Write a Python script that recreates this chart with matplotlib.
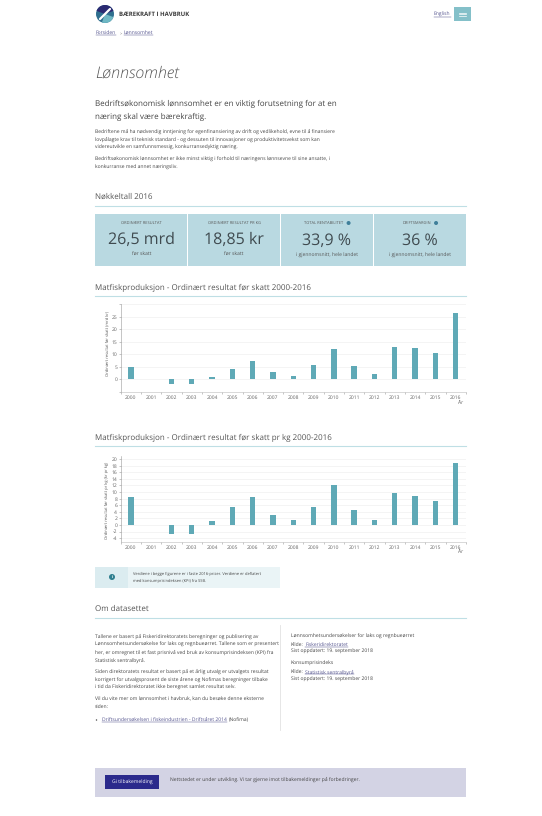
import matplotlib
matplotlib.use("Agg")
import matplotlib.pyplot as plt
from matplotlib.patches import Rectangle, Circle, Wedge

plt.rcParams['font.family'] = ['Open Sans', 'DejaVu Sans']
plt.rcParams['text.hinting'] = 'no_hinting'
plt.rcParams['text.hinting_factor'] = 1

W, H = 542, 816

# Data
years = ['2000', '2001', '2002', '2003', '2004', '2005', '2006', '2007', '2008',
         '2009', '2010', '2011', '2012', '2013', '2014', '2015', '2016']
resultat = [5.0, 0.1, -1.8, -1.8, 0.8, 4.0, 7.2, 2.8, 1.3, 5.8, 12.0, 5.4, 2.0, 13.0, 12.4, 10.6, 26.5]
resultat_kg = [8.4, 0.1, -2.7, -2.7, 1.1, 5.5, 8.4, 3.0, 1.5, 5.5, 12.1, 4.5, 1.5, 9.7, 8.9, 7.3, 18.85]

card_labels = ['ORDINÆRT RESULTAT', 'ORDINÆRT RESULTAT PR KG', 'TOTAL RENTABILITET', 'DRIFTSMARGIN']
card_values = ['26,5 mrd', '18,85 kr', '33,9 %', '36 %']
card_subs = ['før skatt', 'før skatt', 'i gjennomsnitt, hele landet', 'i gjennomsnitt, hele landet']

body1 = ['Bedriftene må ha nødvendig inntjening for egenfinansiering av drift og vedlikehold, evne til å finansiere',
         'lovpålagte krav til teknisk standard - og dessuten til innovasjoner og produktivitetsvekst som kan',
         'videreutvikle en samfunnsmessig, konkurransedyktig næring.']
body2 = ['Bedriftsøkonomisk lønnsomhet er ikke minst viktig i forhold til næringens lønnsevne til sine ansatte, i',
         'konkurranse med annet næringsliv.']
om1 = ['Tallene er basert på Fiskeridirektoratets beregninger og publisering av',
       'Lønnsomhetsundersøkelse for laks og regnbueørret. Tallene som er presentert',
       'her, er omregnet til et fast prisnivå ved bruk av konsumprisindeksen (KPI) fra',
       'Statistisk sentralbyrå.']
om2 = ['Siden direktoratets resultat er basert på et årlig utvalg er utvalgets resultat',
       'korrigert for utvalgsprosent de siste årene og Nofimas beregninger tilbake',
       'i tid da Fiskeridirektoratet ikke beregnet samlet resultat selv.']
om3 = ['Vil du vite mer om lønnsomhet i havbruk, kan du besøke denne eksterne', 'siden:']

TEAL = '#5fa9b6'
LINE = '#bfdfe5'
DARK = '#444444'
LINK = '#55558f'

fig = plt.figure(figsize=(W / 100, H / 100), dpi=100, facecolor='white')
page = fig.add_axes([0, 0, 1, 1])
page.set_xlim(0, W)
page.set_ylim(H, 0)
page.axis('off')


def txt(x, y, s, size=3.6, color=DARK, **kw):
    kw.setdefault('va', 'center')
    return page.text(x, y, s, fontsize=size, color=color, **kw)


def box(x0, y0, x1, y1, color):
    page.add_patch(Rectangle((x0, y0), x1 - x0, y1 - y0, facecolor=color, edgecolor='none'))


def link(x, y, s, size=3.6):
    t = txt(x, y, s, size=size, color=LINK)
    bb = t.get_window_extent(fig.canvas.get_renderer())
    page.plot([bb.x0, bb.x1], [y + 2.4, y + 2.4], color=LINK, lw=0.35)
    return bb.x1


def section(y_text, y_line, s):
    txt(95, y_text, s, size=5.65, color='#555555')
    page.plot([95, 466], [y_line, y_line], color=LINE, lw=0.8)


def bar_chart(top, bottom, values, ymin, ymax, major, labelled, ylabel, ylab_y):
    ax = fig.add_axes([120.7 / W, 1 - bottom / H, (465.8 - 120.7) / W, (bottom - top) / H])
    ax.set_facecolor('none')
    ax.bar(range(len(years)), values, width=0.27, color=TEAL, zorder=3)
    ax.set_xlim(-0.5, 16.5)
    ax.set_ylim(ymin, ymax)
    ax.set_yticks(major)
    ax.set_yticklabels([str(v) if v in labelled else '' for v in major])
    ax.set_xticks(range(len(years)))
    ax.set_xticklabels(years)
    ax.set_xticks([i - 0.5 for i in range(len(years) + 1)], minor=True)
    ax.tick_params(axis='x', which='major', length=0, labelsize=3.3, labelcolor='#666666', pad=2.5)
    ax.tick_params(axis='x', which='minor', length=1.5, width=0.4, color='#999999')
    ax.tick_params(axis='y', length=1.5, width=0.4, color='#999999', labelsize=3.3, labelcolor='#666666', pad=1)
    ax.grid(axis='y', color='#f0f0f0', lw=0.5, zorder=0)
    for side in ['top', 'right']:
        ax.spines[side].set_visible(False)
    ax.spines['left'].set_linewidth(0.4)
    ax.spines['left'].set_color('#999999')
    ax.spines['bottom'].set_linewidth(0.4)
    ax.spines['bottom'].set_color('#bbbbbb')
    txt(107, ylab_y, ylabel, size=3.05, color='#555555', rotation=90, ha='center')
    txt(461, bottom + 10.5, 'År', size=3.3, color='#666666', ha='center')


# Header
page.add_patch(Circle((105, 14), 9, facecolor='#2f6f8f', edgecolor='none'))
page.add_patch(Wedge((105, 14), 9, 200, 340, facecolor='#2b2a72', edgecolor='none'))
page.add_patch(Wedge((105, 14), 9, 20, 110, facecolor='#6fb8c4', edgecolor='none'))
page.plot([100, 110], [19, 9], color='white', lw=1.6, solid_capstyle='round')
txt(119, 14, 'BÆREKRAFT I HAVBRUK', size=4.0, color='#3a3a3a', fontweight='bold')
link(434, 14.5, 'English', size=3.6)
box(454, 7, 471, 21, '#84c0c9')
for yy in [12.5, 14, 15.5]:
    page.plot([459, 466], [yy, yy], color='white', lw=0.5)
link(96, 33, 'Forsiden', size=3.6)
txt(120, 33, '>', size=2.8, color='#777777')
link(124, 33, 'Lønnsomhet', size=3.6)

# Intro
txt(95, 73, 'Lønnsomhet', size=11.6, color='#555555', fontstyle='italic', fontweight='light')
txt(95, 104, 'Bedriftsøkonomisk lønnsomhet er en viktig forutsetning for at en', size=5.7, color='#444444')
txt(95, 117, 'næring skal være bærekraftig.', size=5.7, color='#444444')
for y, s in zip([131.5, 139, 147], body1):
    txt(95, y, s, size=3.65)
for y, s in zip([159.5, 167], body2):
    txt(95, y, s, size=3.65)

# Key figures
section(197, 205.7, 'Nøkkeltall 2016')
card_edges = [95, 187.5, 280.5, 373.5, 466]
label_y = [223, 223, 223, 223]
value_y = [239.5, 239.5, 241, 241]
sub_y = [254, 254, 256, 256]
for i in range(4):
    box(card_edges[i] + 0.4, 214, card_edges[i + 1] - 0.4, 266, '#b9d9e1')
    cx = (card_edges[i] + card_edges[i + 1]) / 2
    shift = -3 if i >= 2 else 0
    t = txt(cx + shift, label_y[i], card_labels[i], size=2.95, color='#555555', ha='center')
    if i >= 2:
        bb = t.get_window_extent(fig.canvas.get_renderer())
        page.add_patch(Circle((bb.x1 + 5, label_y[i]), 2, facecolor='#3f7f9a', edgecolor='none'))
    txt(cx, value_y[i], card_values[i], size=11.2, color='#3f4a4f', ha='center')
    txt(cx, sub_y[i], card_subs[i], size=3.5, color='#555555', ha='center')

# Charts
section(288, 296, 'Matfiskproduksjon - Ordinært resultat før skatt 2000-2016')
bar_chart(304.1, 391.8, resultat, -5, 30, list(range(-5, 31, 5)), [0, 5, 10, 15, 20, 25],
          'Ordinært resultat før skatt (mrd kr)', 343)
section(438, 446, 'Matfiskproduksjon - Ordinært resultat før skatt pr kg 2000-2016')
bar_chart(455.7, 541.5, resultat_kg, -5, 21, list(range(-4, 21, 2)), list(range(-4, 21, 2)),
          'Ordinært resultat før skatt pr kg (kr pr kg)', 500)

# Info box
box(95, 567, 280, 588, '#eaf4f6')
box(95, 567, 128, 588, '#dbecf0')
page.add_patch(Circle((112, 577), 3, facecolor='#2f7f8f', edgecolor='none'))
txt(112, 577, 'i', size=3.2, color='white', ha='center', fontweight='bold')
txt(133, 574, 'Verdiene i begge figurene er i faste 2016-priser. Verdiene er deflatert', size=3.2)
txt(133, 581, 'med konsumprisindeksen (KPI) fra SSB.', size=3.2)

# About the dataset
section(609, 617.5, 'Om datasettet')
for y, s in zip([636, 644, 652.5, 660], om1):
    txt(95, y, s, size=3.45)
for y, s in zip([671.5, 679.5, 687], om2):
    txt(95, y, s, size=3.45)
for y, s in zip([699.5, 707], om3):
    txt(95, y, s, size=3.45)
page.add_patch(Circle((96.5, 720), 0.7, facecolor=DARK, edgecolor='none'))
x_end = link(102, 720, 'Driftsundersøkelsen i fiskeindustrien - Driftsåret 2014', size=3.6)
txt(x_end + 1.5, 720, '(Nofima)', size=3.45)
page.plot([280, 280], [625, 730], color='#e2e2e2', lw=0.6)
txt(291, 636.5, 'Lønnsomhetsundersøkelser for laks og regnbueørret', size=3.6)
x_end = txt(291, 644.5, 'Kilde:', size=3.6).get_window_extent(fig.canvas.get_renderer()).x1
link(x_end + 1.5, 644.5, 'Fiskeridirektoratet', size=3.6)
txt(291, 652, 'Sist oppdatert: 19. september 2018', size=3.6)
txt(291, 664, 'Konsumprisindeks', size=3.6)
txt(291, 672, 'Kilde:', size=3.6)
link(x_end + 1.5, 672, 'Statistisk sentralbyrå', size=3.6)
txt(291, 680, 'Sist oppdatert: 19. september 2018', size=3.6)

# Feedback footer
box(95, 768, 466, 797, '#d3d3e4')
box(105, 775, 159, 789, '#2b2a8c')
txt(132, 782.5, 'Gi tilbakemelding', size=3.4, color='white', ha='center')
txt(170, 779, 'Nettstedet er under utvikling. Vi tar gjerne imot tilbakemeldinger på forbedringer.', size=3.55)

fig.savefig('out.png', dpi=100)
